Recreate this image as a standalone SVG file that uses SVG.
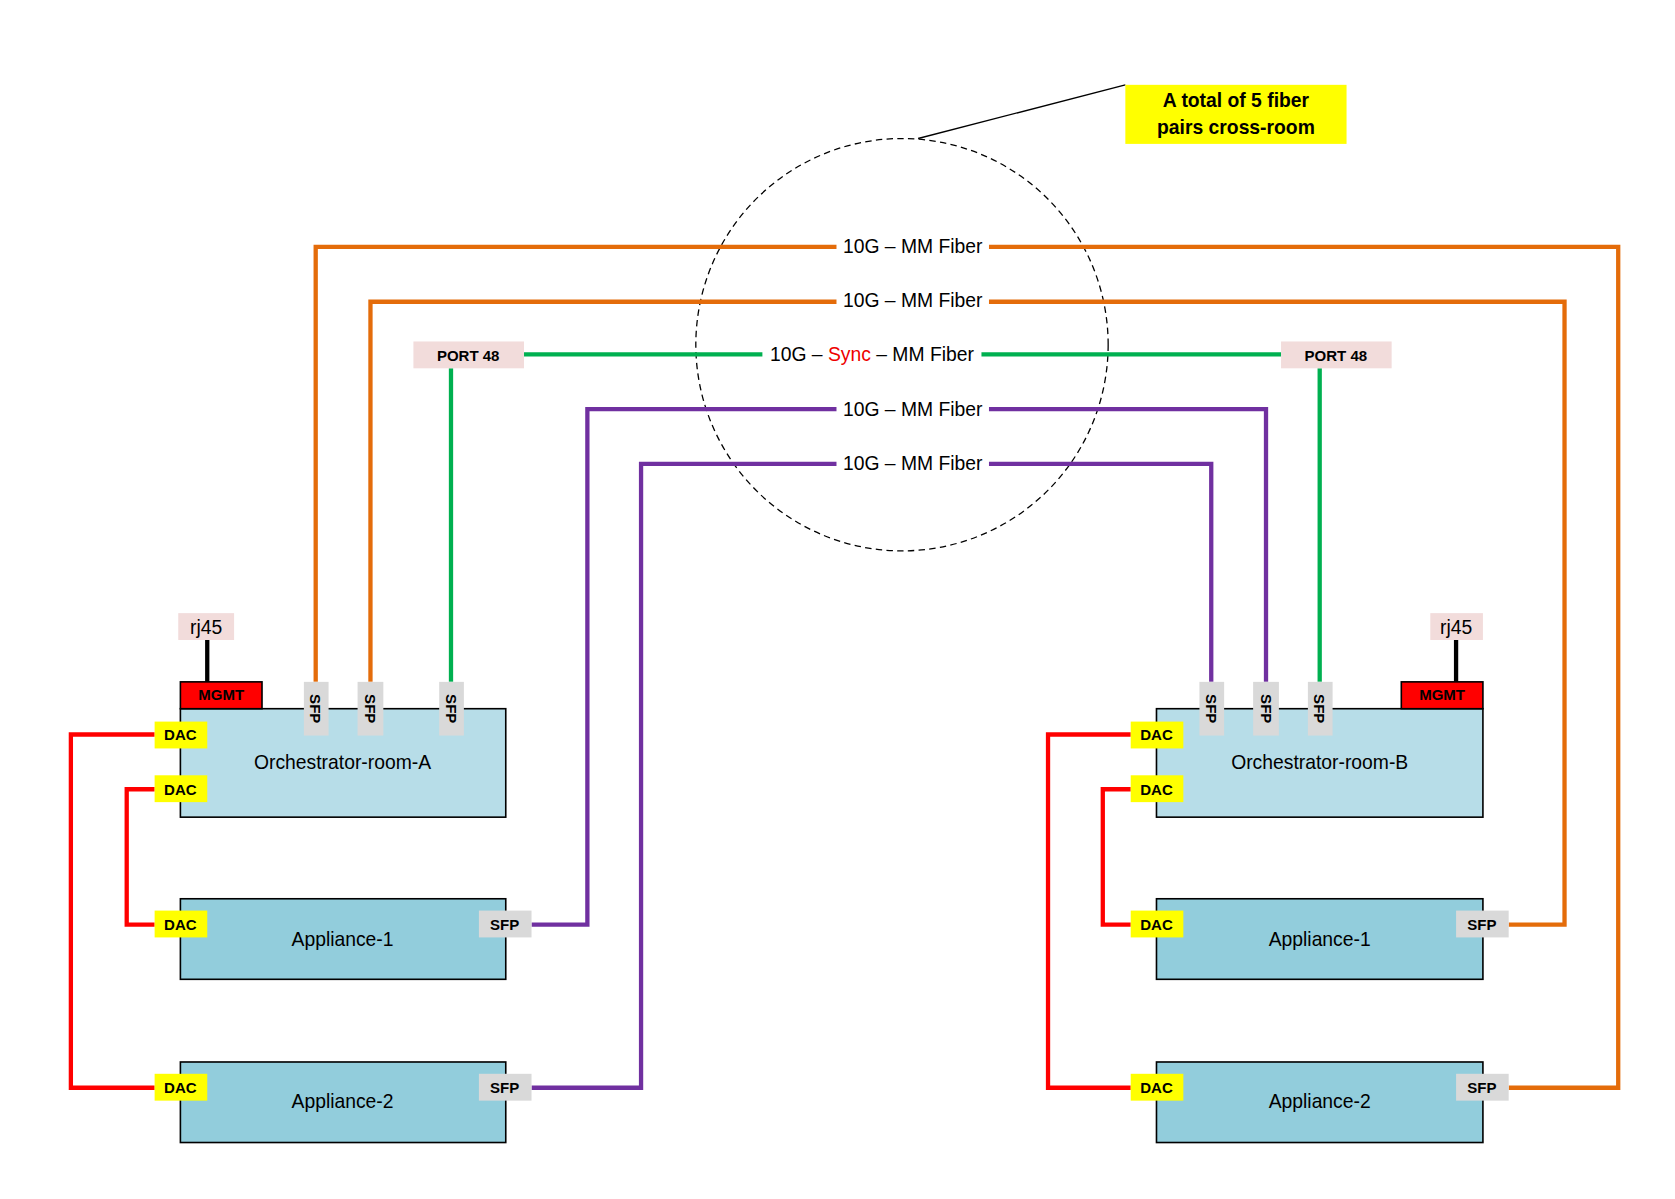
<svg xmlns="http://www.w3.org/2000/svg" width="1675" height="1199" viewBox="0 0 1675 1199">
<style>
text{font-family:"Liberation Sans","Open Sans",sans-serif;fill:#000}
.w{fill:none;stroke-width:4;stroke-linejoin:miter}
.or{stroke:#e46c0a}.gr{stroke:#00b050}.pu{stroke:#7030a0}.rd{stroke:#f00}
.box{stroke:#000;stroke-width:1.5}
.orch{fill:#b7dde8}.app{fill:#92cddc}
.tag{font-size:14px;font-weight:bold;text-anchor:middle}
.lbl{font-size:18px;text-anchor:middle}
.dac{fill:#ffff00}.sfp{fill:#d9d9d9}.pink{fill:#f2dcdb}
</style>
<rect width="1675" height="1199" fill="#fff"/>
<g transform="scale(1.0738)">
<g id="connectors">
<circle cx="840" cy="321" r="192" fill="none" stroke="#000" stroke-width="1.2" stroke-dasharray="6,4"/>
<line x1="855" y1="129" x2="1048" y2="79" stroke="#000" stroke-width="1.3"/>
<polyline class="w or" points="294,635 294,230 1507,230 1507,1013 1405,1013"/>
<polyline class="w or" points="345,635 345,281 1457,281 1457,861 1405,861"/>
<polyline class="w gr" points="488,330 1193,330"/>
<line class="w gr" x1="420" y1="343" x2="420" y2="635"/>
<line class="w gr" x1="1229" y1="343" x2="1229" y2="635"/>
<polyline class="w pu" points="495,861 547,861 547,381 1179,381 1179,635"/>
<polyline class="w pu" points="495,1013 597,1013 597,432 1128,432 1128,635"/>
<polyline class="w rd" points="144,684 66,684 66,1013 144,1013"/>
<polyline class="w rd" points="144,735 118,735 118,861 144,861"/>
<polyline class="w rd" points="1053,684 976,684 976,1013 1053,1013"/>
<polyline class="w rd" points="1053,735 1027,735 1027,861 1053,861"/>
<line x1="193" y1="596" x2="193" y2="635" stroke="#000" stroke-width="4"/>
<line x1="1356" y1="596" x2="1356" y2="635" stroke="#000" stroke-width="4"/>
<g class="lbl">
<rect x="779" y="218" width="142" height="24" fill="#fff"/><text x="850" y="236">10G – MM Fiber</text>
<rect x="779" y="269" width="142" height="24" fill="#fff"/><text x="850" y="286">10G – MM Fiber</text>
<rect x="710" y="318" width="204" height="24" fill="#fff"/><text x="812" y="336">10G – <tspan fill="#e00">Sync</tspan> – MM Fiber</text>
<rect x="779" y="369" width="142" height="24" fill="#fff"/><text x="850" y="387">10G – MM Fiber</text>
<rect x="779" y="420" width="142" height="24" fill="#fff"/><text x="850" y="438">10G – MM Fiber</text>
</g>
</g>
<g id="note"><rect x="1048" y="79" width="206" height="55" fill="#ffff00"/><text class="lbl" x="1151" y="100" font-weight="bold" font-size="17">A total of 5 fiber</text><text class="lbl" x="1151" y="125" font-weight="bold" font-size="17">pairs cross-room</text></g>
<g id="port48-a"><rect x="385" y="318" width="103" height="25" class="pink"/><text class="tag" x="436" y="336" font-size="16">PORT 48</text></g>
<g id="port48-b"><rect x="1193" y="318" width="103" height="25" class="pink"/><text class="tag" x="1244" y="336" font-size="16">PORT 48</text></g>
<g id="orch-a">
<rect class="box orch" x="168" y="660" width="303" height="101"/>
<text class="lbl" x="319" y="716">Orchestrator-room-A</text>
<rect x="168" y="635" width="76" height="25" fill="#f00" class="box"/><text class="tag" x="206" y="652">MGMT</text>
<rect x="166" y="571" width="52" height="25" class="pink"/><text class="lbl" x="192" y="590">rj45</text>
<rect class="sfp" x="283" y="635" width="23" height="50"/><text class="tag" transform="translate(289,660) rotate(90)" font-size="13">SFP</text>
<rect class="sfp" x="333" y="635" width="24" height="50"/><text class="tag" transform="translate(340,660) rotate(90)" font-size="13">SFP</text>
<rect class="sfp" x="409" y="635" width="23" height="50"/><text class="tag" transform="translate(415,660) rotate(90)" font-size="13">SFP</text>
<rect class="dac" x="144" y="672" width="49" height="25"/><text class="tag" x="168" y="689">DAC</text>
<rect class="dac" x="144" y="722" width="49" height="25"/><text class="tag" x="168" y="740">DAC</text>
</g>
<g id="app1-a"><rect class="box app" x="168" y="837" width="303" height="75"/><text class="lbl" x="319" y="881">Appliance-1</text>
<rect class="dac" x="144" y="848" width="49" height="25"/><text class="tag" x="168" y="866">DAC</text>
<rect class="sfp" x="446" y="848" width="49" height="25"/><text class="tag" x="470" y="866">SFP</text></g>
<g id="app2-a"><rect class="box app" x="168" y="989" width="303" height="75"/><text class="lbl" x="319" y="1032">Appliance-2</text>
<rect class="dac" x="144" y="1000" width="49" height="25"/><text class="tag" x="168" y="1018">DAC</text>
<rect class="sfp" x="446" y="1000" width="49" height="25"/><text class="tag" x="470" y="1018">SFP</text></g>
<g id="orch-b">
<rect class="box orch" x="1077" y="660" width="304" height="101"/>
<text class="lbl" x="1229" y="716">Orchestrator-room-B</text>
<rect x="1305" y="635" width="76" height="25" fill="#f00" class="box"/><text class="tag" x="1343" y="652">MGMT</text>
<rect x="1332" y="571" width="49" height="25" class="pink"/><text class="lbl" x="1356" y="590">rj45</text>
<rect class="sfp" x="1117" y="635" width="23" height="50"/><text class="tag" transform="translate(1123,660) rotate(90)" font-size="13">SFP</text>
<rect class="sfp" x="1167" y="635" width="24" height="50"/><text class="tag" transform="translate(1174,660) rotate(90)" font-size="13">SFP</text>
<rect class="sfp" x="1218" y="635" width="23" height="50"/><text class="tag" transform="translate(1224,660) rotate(90)" font-size="13">SFP</text>
<rect class="dac" x="1053" y="672" width="49" height="25"/><text class="tag" x="1077" y="689">DAC</text>
<rect class="dac" x="1053" y="722" width="49" height="25"/><text class="tag" x="1077" y="740">DAC</text>
</g>
<g id="app1-b"><rect class="box app" x="1077" y="837" width="304" height="75"/><text class="lbl" x="1229" y="881">Appliance-1</text>
<rect class="dac" x="1053" y="848" width="49" height="25"/><text class="tag" x="1077" y="866">DAC</text>
<rect class="sfp" x="1356" y="848" width="49" height="25"/><text class="tag" x="1380" y="866">SFP</text></g>
<g id="app2-b"><rect class="box app" x="1077" y="989" width="304" height="75"/><text class="lbl" x="1229" y="1032">Appliance-2</text>
<rect class="dac" x="1053" y="1000" width="49" height="25"/><text class="tag" x="1077" y="1018">DAC</text>
<rect class="sfp" x="1356" y="1000" width="49" height="25"/><text class="tag" x="1380" y="1018">SFP</text></g>
</g>
</svg>
